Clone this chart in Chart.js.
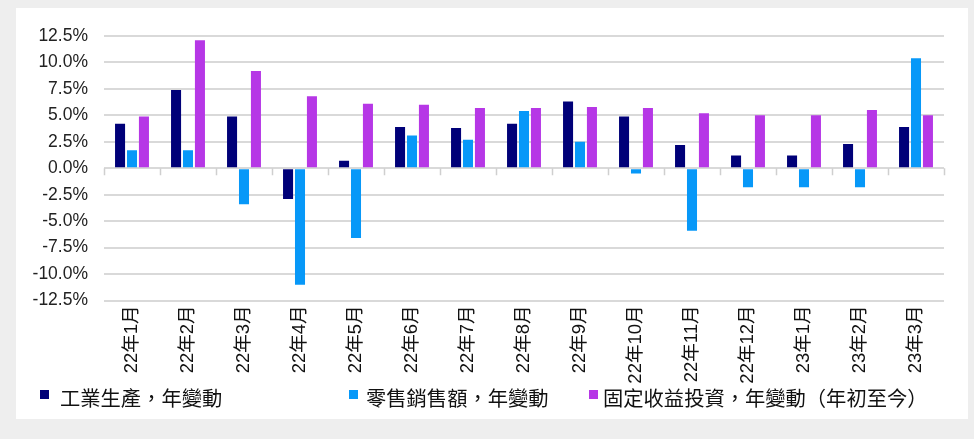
<!DOCTYPE html>
<html>
<head>
<meta charset="utf-8">
<script src="https://cdn.jsdelivr.net/npm/chart.js@4"></script>
<style>
  html, body { margin: 0; padding: 0; background: #eeeeee; width: 974px; height: 439px; overflow: hidden; }
  #panel { position: absolute; left: 16px; top: 8px; width: 952px; height: 411px; background: #ffffff; }
  #chart { position: absolute; left: 0; top: 0; }
  .lg-sq { position: absolute; width: 9px; height: 9px; }
  .lg-tx { position: absolute; height: 24px; line-height: 24px; font-size: 20.3px; color: #111;
           font-family: "Noto Sans CJK TC", "Liberation Sans", sans-serif; white-space: nowrap; }
</style>
</head>
<body>
<div id="panel">
  <canvas id="chart" width="952" height="411"></canvas>
</div>
<script>
const categories = ["22年1月","22年2月","22年3月","22年4月","22年5月","22年6月","22年7月","22年8月","22年9月","22年10月","22年11月","22年12月","23年1月","23年2月","23年3月"];
const seriesNames = ["工業生產，年變動", "零售銷售額，年變動", "固定收益投資，年變動（年初至今）"];
const industrialProduction = [4.2, 7.4, 4.9, -2.9, 0.7, 3.9, 3.8, 4.2, 6.3, 4.9, 2.2, 1.2, 1.2, 2.3, 3.9];
const retailSales = [1.7, 1.7, -3.4, -11.0, -6.6, 3.1, 2.7, 5.4, 2.5, -0.5, -5.9, -1.8, -1.8, -1.8, 10.4];
const fixedInvestment = [4.9, 12.1, 9.2, 6.8, 6.1, 6.0, 5.7, 5.7, 5.8, 5.7, 5.2, 5.0, 5.0, 5.5, 5.0];
const yTicks = [-12.5, -10.0, -7.5, -5.0, -2.5, 0.0, 2.5, 5.0, 7.5, 10.0, 12.5];

const colors = ["#000078", "#0798f8", "#b637e6"];
const seriesValues = [industrialProduction, retailSales, fixedInvestment];

const gridColor = "#d9d9d9";
const latinCjk = '"Liberation Sans", "Noto Sans CJK TC", sans-serif';

const zeroTicks = {
  id: "zeroTicks",
  afterDraw(chart) {
    const xs = chart.scales.x, ys = chart.scales.y;
    const ctx = chart.ctx;
    const y0 = ys.getPixelForValue(0);
    ctx.save();
    ctx.strokeStyle = "#cfcfcf";
    ctx.lineWidth = 1.5;
    for (let i = 0; i <= categories.length; i++) {
      const x = Math.round(xs.getPixelForValue(i - 0.5)) + 0.5;
      ctx.beginPath();
      ctx.moveTo(x, y0);
      ctx.lineTo(x, y0 + 7);
      ctx.stroke();
    }
    ctx.restore();
  }
};

new Chart(document.getElementById("chart"), {
  type: "bar",
  data: {
    labels: categories,
    datasets: seriesValues.map((vals, i) => ({
      label: seriesNames[i],
      data: vals,
      backgroundColor: colors[i],
      borderWidth: 0,
      categoryPercentage: 0.64,
      barPercentage: 0.84
    }))
  },
  options: {
    responsive: false,
    animation: false,
    devicePixelRatio: 1,
    layout: { padding: { top: 28, right: 24, left: 0, bottom: 0 } },
    plugins: { legend: { display: false }, tooltip: { enabled: false } },
    scales: {
      x: {
        offset: true,
        grid: { display: false, drawTicks: false },
        border: { display: false },
        ticks: {
          autoSkip: false,
          maxRotation: 90,
          minRotation: 90,
          padding: 5,
          color: "#111",
          font: { size: 18.5, family: latinCjk }
        },
        afterFit(scale) { scale.height = 118.5; }
      },
      y: {
        min: yTicks[0],
        max: yTicks[yTicks.length - 1],
        afterBuildTicks(scale) { scale.ticks = yTicks.map(v => ({ value: v })); },
        grid: { color: gridColor, lineWidth: 2, drawTicks: false },
        border: { display: false },
        ticks: {
          padding: 16,
          color: "#222",
          font: { size: 17.5, family: latinCjk },
          callback: v => v.toFixed(1) + "%"
        },
        afterFit(scale) { scale.width = 88; }
      }
    }
  },
  plugins: [zeroTicks]
});

// HTML legend built from the series names
const panel = document.getElementById("panel");
const legendPos = [[24, 44], [333, 350], [573, 587]];
seriesNames.forEach((name, i) => {
  const sq = document.createElement("div");
  sq.className = "lg-sq";
  sq.style.left = legendPos[i][0] + "px";
  sq.style.top = "382px";
  sq.style.background = colors[i];
  panel.appendChild(sq);
  const tx = document.createElement("div");
  tx.className = "lg-tx";
  tx.style.left = legendPos[i][1] + "px";
  tx.style.top = "377px";
  tx.textContent = name;
  panel.appendChild(tx);
});
</script>
</body>
</html>
